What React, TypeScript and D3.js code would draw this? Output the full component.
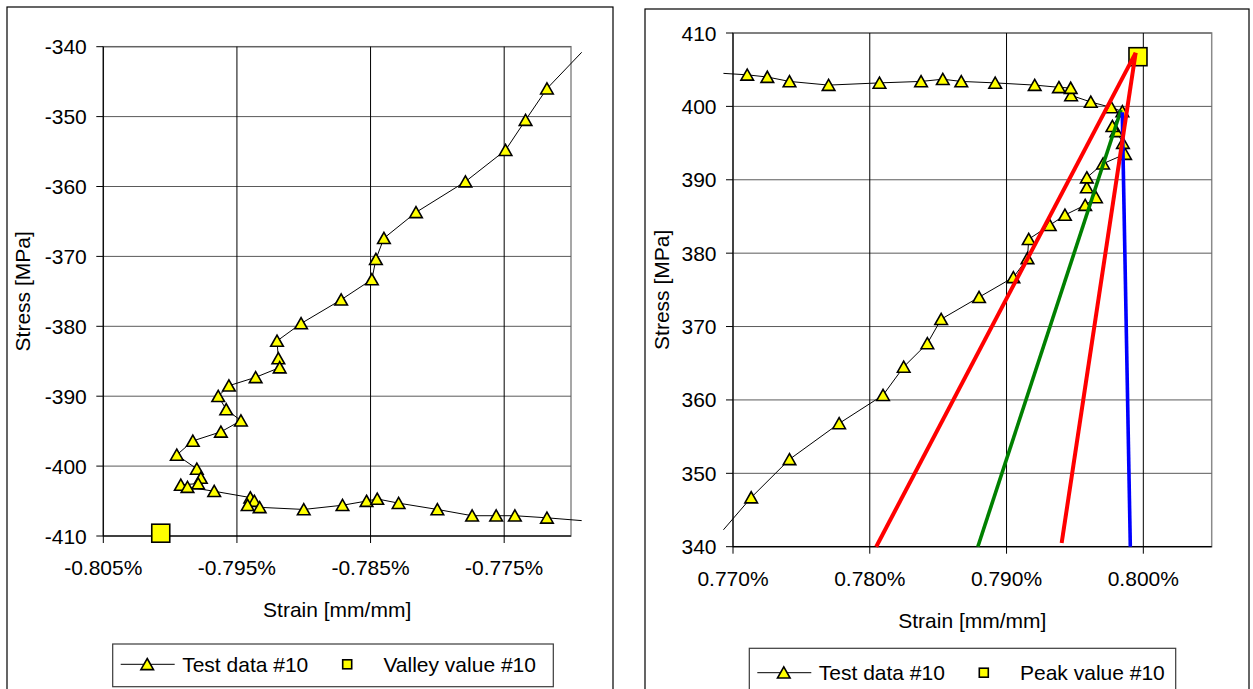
import React from 'react';
import * as d3 from 'd3';

// ---------- data ----------
// Left chart (compression, valley) – strain in %, stress in MPa
const leftStrain = [
  -0.7692, -0.7718, -0.7734, -0.7749, -0.7779, -0.7816, -0.784, -0.7846, -0.7849, -0.7872,
  -0.7902, -0.792, -0.7919, -0.7918, -0.7936, -0.7956, -0.7964, -0.7958, -0.7947, -0.7962,
  -0.7983, -0.7995, -0.798, -0.7977, -0.7979, -0.7992, -0.7987, -0.7967, -0.794, -0.7937,
  -0.7942, -0.7933, -0.79, -0.7871, -0.7853, -0.7845, -0.7829, -0.78, -0.7774, -0.7756,
  -0.7742, -0.7718, -0.7692,
];
const leftStress = [
  -340.8, -346.0, -350.5, -354.8, -359.3, -363.7, -367.4, -370.4, -373.3, -376.2,
  -379.6, -382.1, -384.6, -385.9, -387.3, -388.5, -390.0, -391.9, -393.5, -395.1,
  -396.4, -398.4, -400.4, -401.7, -402.5, -402.7, -403.0, -403.6, -404.5, -405.0,
  -405.6, -405.9, -406.2, -405.6, -405.0, -404.7, -405.3, -406.2, -407.1, -407.1,
  -407.1, -407.4, -407.8,
];
const valleyPoint = [-0.8007, -409.6];

// Right chart (tension, peak)
const rightStrain = [
  0.7693, 0.77133, 0.77413, 0.77776, 0.78097, 0.78248, 0.78421, 0.78522, 0.78799, 0.7905,
  0.79153, 0.79162, 0.79316, 0.79427, 0.79575, 0.79654, 0.79587, 0.79587, 0.79706, 0.79867,
  0.79851, 0.79803, 0.79774, 0.79847, 0.79766, 0.79616, 0.79472, 0.79469, 0.79383, 0.79206,
  0.78917, 0.78669, 0.78534, 0.78375, 0.78071, 0.77699, 0.77413, 0.77251, 0.77104, 0.7693,
];
const rightStress = [
  342.3, 346.7, 351.9, 356.8, 360.65, 364.5, 367.7, 371.0, 374.0, 376.7,
  379.3, 381.9, 383.8, 385.2, 386.55, 387.6, 388.95, 390.3, 392.2, 393.5,
  395.0, 396.6, 397.3, 399.3, 399.85, 400.6, 401.5, 402.5, 402.6, 402.9,
  403.2, 403.4, 403.7, 403.4, 403.2, 402.9, 403.4, 404.0, 404.3, 404.5,
];
const peakPoint = [0.79961, 406.77];

// Straight lines drawn on the right chart: [strain, stress] pairs
const redLineA = [[0.78047, 340], [0.79944, 407.3]];
const redLineB = [[0.79403, 340.5], [0.79944, 407.3]];
const greenLine = [[0.7879, 340], [0.79837, 399.5]];
const blueLine = [[0.79905, 340], [0.79846, 399.2]];

// Axes
const leftXTicks = [-0.805, -0.795, -0.785, -0.775];
const leftYTicks = [-340, -350, -360, -370, -380, -390, -400, -410];
const rightXTicks = [0.77, 0.78, 0.79, 0.8];
const rightYTicks = [340, 350, 360, 370, 380, 390, 400, 410];

const xTitle = 'Strain [mm/mm]';
const yTitle = 'Stress [MPa]';
const seriesName = 'Test data #10';
const valleyName = 'Valley value #10';
const peakName = 'Peak value #10';

// ---------- drawing ----------
const FONT = '"Liberation Sans", Arial, Helvetica, sans-serif';
const FS = 21;
const YELLOW = '#FFFF00';

const tri = (x: number, y: number, s = 1) =>
  `M${x},${y - 5.8 * s}L${x + 6.3 * s},${y + 5.3 * s}L${x - 6.3 * s},${y + 5.3 * s}Z`;

type PanelProps = {
  frame: { x: number; y: number; w: number; h: number };
  plot: { l: number; r: number; t: number; b: number };
  xDomain: [number, number];
  yDomain: [number, number];
  xTicks: number[];
  yTicks: number[];
  strain: number[];
  stress: number[];
  special: number[];
  fits: { pts: number[][]; color: string; width: number }[];
  yTitleX: number;
  legend: { x: number; y: number; w: number; h: number; lineY: number; label2: string };
};

function Panel(p: PanelProps) {
  const x = d3.scaleLinear().domain(p.xDomain).range([p.plot.l, p.plot.r]);
  const y = d3.scaleLinear().domain(p.yDomain).range([p.plot.b, p.plot.t]);
  const pts = p.strain.map((s, i) => [s, p.stress[i]] as [number, number]);
  const line = d3
    .line<[number, number]>()
    .x((d) => x(d[0]))
    .y((d) => y(d[1]));
  const xmin = Math.min(...p.xDomain);
  const xmax = Math.max(...p.xDomain);
  const inside = pts.filter((d) => d[0] >= xmin && d[0] <= xmax);
  const fmtX = (v: number) => v.toFixed(3) + '%';
  const L = p.legend;
  return (
    <g>
      <rect x={p.frame.x} y={p.frame.y} width={p.frame.w} height={p.frame.h} fill="#fff" stroke="#000" strokeWidth={1.2} />
      {/* plot area border */}
      <rect
        x={p.plot.l}
        y={p.plot.t}
        width={p.plot.r - p.plot.l}
        height={p.plot.b - p.plot.t}
        fill="none"
        stroke="#8a8a8a"
        strokeWidth={1.5}
      />
      {/* horizontal gridlines */}
      {p.yTicks.map((t) => (
        <line key={'h' + t} x1={p.plot.l} x2={p.plot.r} y1={y(t)} y2={y(t)} stroke="#5a5a5a" strokeWidth={1} />
      ))}
      {/* vertical gridlines */}
      {p.xTicks.slice(1).map((t) => (
        <line key={'v' + t} x1={x(t)} x2={x(t)} y1={p.plot.t} y2={p.plot.b} stroke="#000" strokeWidth={1} />
      ))}
      {/* axes */}
      <line x1={p.plot.l} x2={p.plot.l} y1={p.plot.t} y2={p.plot.b} stroke="#000" strokeWidth={1.2} />
      <line x1={p.plot.l} x2={p.plot.r} y1={p.plot.b} y2={p.plot.b} stroke="#000" strokeWidth={1.2} />
      {p.yTicks.map((t) => (
        <g key={'yt' + t}>
          <line x1={p.plot.l - 7} x2={p.plot.l} y1={y(t)} y2={y(t)} stroke="#000" strokeWidth={1} />
          <text x={p.plot.l - 16.5} y={y(t) + 7.5} textAnchor="end" fontFamily={FONT} fontSize={FS} fill="#000">
            {String(t)}
          </text>
        </g>
      ))}
      {p.xTicks.map((t) => (
        <g key={'xt' + t}>
          <line x1={x(t)} x2={x(t)} y1={p.plot.b} y2={p.plot.b + 7} stroke="#000" strokeWidth={1} />
          <text x={x(t)} y={p.plot.b + 39} textAnchor="middle" fontFamily={FONT} fontSize={FS} fill="#000">
            {fmtX(t)}
          </text>
        </g>
      ))}
      <text
        x={(p.plot.l + p.plot.r) / 2}
        y={p.plot.b + 81}
        textAnchor="middle"
        fontFamily={FONT}
        fontSize={FS}
        fill="#000"
      >
        {xTitle}
      </text>
      <text
        transform={`translate(${p.yTitleX},${(p.plot.t + p.plot.b) / 2}) rotate(-90)`}
        textAnchor="middle"
        fontFamily={FONT}
        fontSize={FS}
        fill="#000"
      >
        {yTitle}
      </text>
      {/* series */}
      <path d={line(pts) || ''} fill="none" stroke="#000" strokeWidth={1} />
      {inside.map((d, i) => (
        <path key={'m' + i} d={tri(x(d[0]), y(d[1]))} fill={YELLOW} stroke="#000" strokeWidth={1.6} strokeLinejoin="miter" />
      ))}
      <rect
        x={x(p.special[0]) - 9}
        y={y(p.special[1]) - 9}
        width={18}
        height={18}
        fill={YELLOW}
        stroke="#000"
        strokeWidth={1.6}
      />
      {p.fits.map((f, i) => (
        <path
          key={'f' + i}
          d={line(f.pts as [number, number][]) || ''}
          fill="none"
          stroke={f.color}
          strokeWidth={f.width}
        />
      ))}
      {/* legend */}
      <rect x={L.x} y={L.y} width={L.w} height={L.h} fill="#fff" stroke="#3a3a3a" strokeWidth={1.2} />
      <line x1={L.x + 8} x2={L.x + 62} y1={L.lineY} y2={L.lineY} stroke="#000" strokeWidth={1} />
      <path d={tri(L.x + 34.5, L.lineY)} fill={YELLOW} stroke="#000" strokeWidth={1.6} />
      <text x={L.x + 69.5} y={L.lineY + 7.5} fontFamily={FONT} fontSize={FS} fill="#000">
        {seriesName}
      </text>
      <rect x={L.x + 230} y={L.lineY - 4.5} width={9} height={9} fill={YELLOW} stroke="#000" strokeWidth={1.6} />
      <text x={L.x + 270.7} y={L.lineY + 7.5} fontFamily={FONT} fontSize={FS} fill="#000">
        {L.label2}
      </text>
    </g>
  );
}

export default function App() {
  return (
    <svg
      width={1253}
      height={689}
      viewBox="0 0 1253 689"
      style={{ position: 'absolute', left: 0, top: 0, background: '#fff' }}
    >
      <rect x={0} y={0} width={1253} height={689} fill="#fff" />
      <Panel
        frame={{ x: 7, y: 7, w: 606, h: 700 }}
        plot={{ l: 103.3, r: 571, t: 46.7, b: 536 }}
        xDomain={[-0.805, -0.77]}
        yDomain={[-410, -340]}
        xTicks={leftXTicks}
        yTicks={leftYTicks}
        strain={leftStrain}
        stress={leftStress}
        special={valleyPoint}
        fits={[]}
        yTitleX={29.5}
        legend={{ x: 112.7, y: 644, w: 440.6, h: 42.7, lineY: 664.3, label2: valleyName }}
      />
      <Panel
        frame={{ x: 645, y: 9, w: 604, h: 700 }}
        plot={{ l: 733, r: 1211.7, t: 33, b: 546.7 }}
        xDomain={[0.77, 0.805]}
        yDomain={[340, 410]}
        xTicks={rightXTicks}
        yTicks={rightYTicks}
        strain={rightStrain}
        stress={rightStress}
        special={peakPoint}
        fits={[
          { pts: greenLine, color: '#008000', width: 3.6 },
          { pts: blueLine, color: '#0000FF', width: 3.6 },
          { pts: redLineA, color: '#FF0000', width: 4 },
          { pts: redLineB, color: '#FF0000', width: 4 },
        ]}
        yTitleX={669}
        legend={{ x: 749.3, y: 648.3, w: 426.4, h: 60, lineY: 672.7, label2: peakName }}
      />
    </svg>
  );
}
